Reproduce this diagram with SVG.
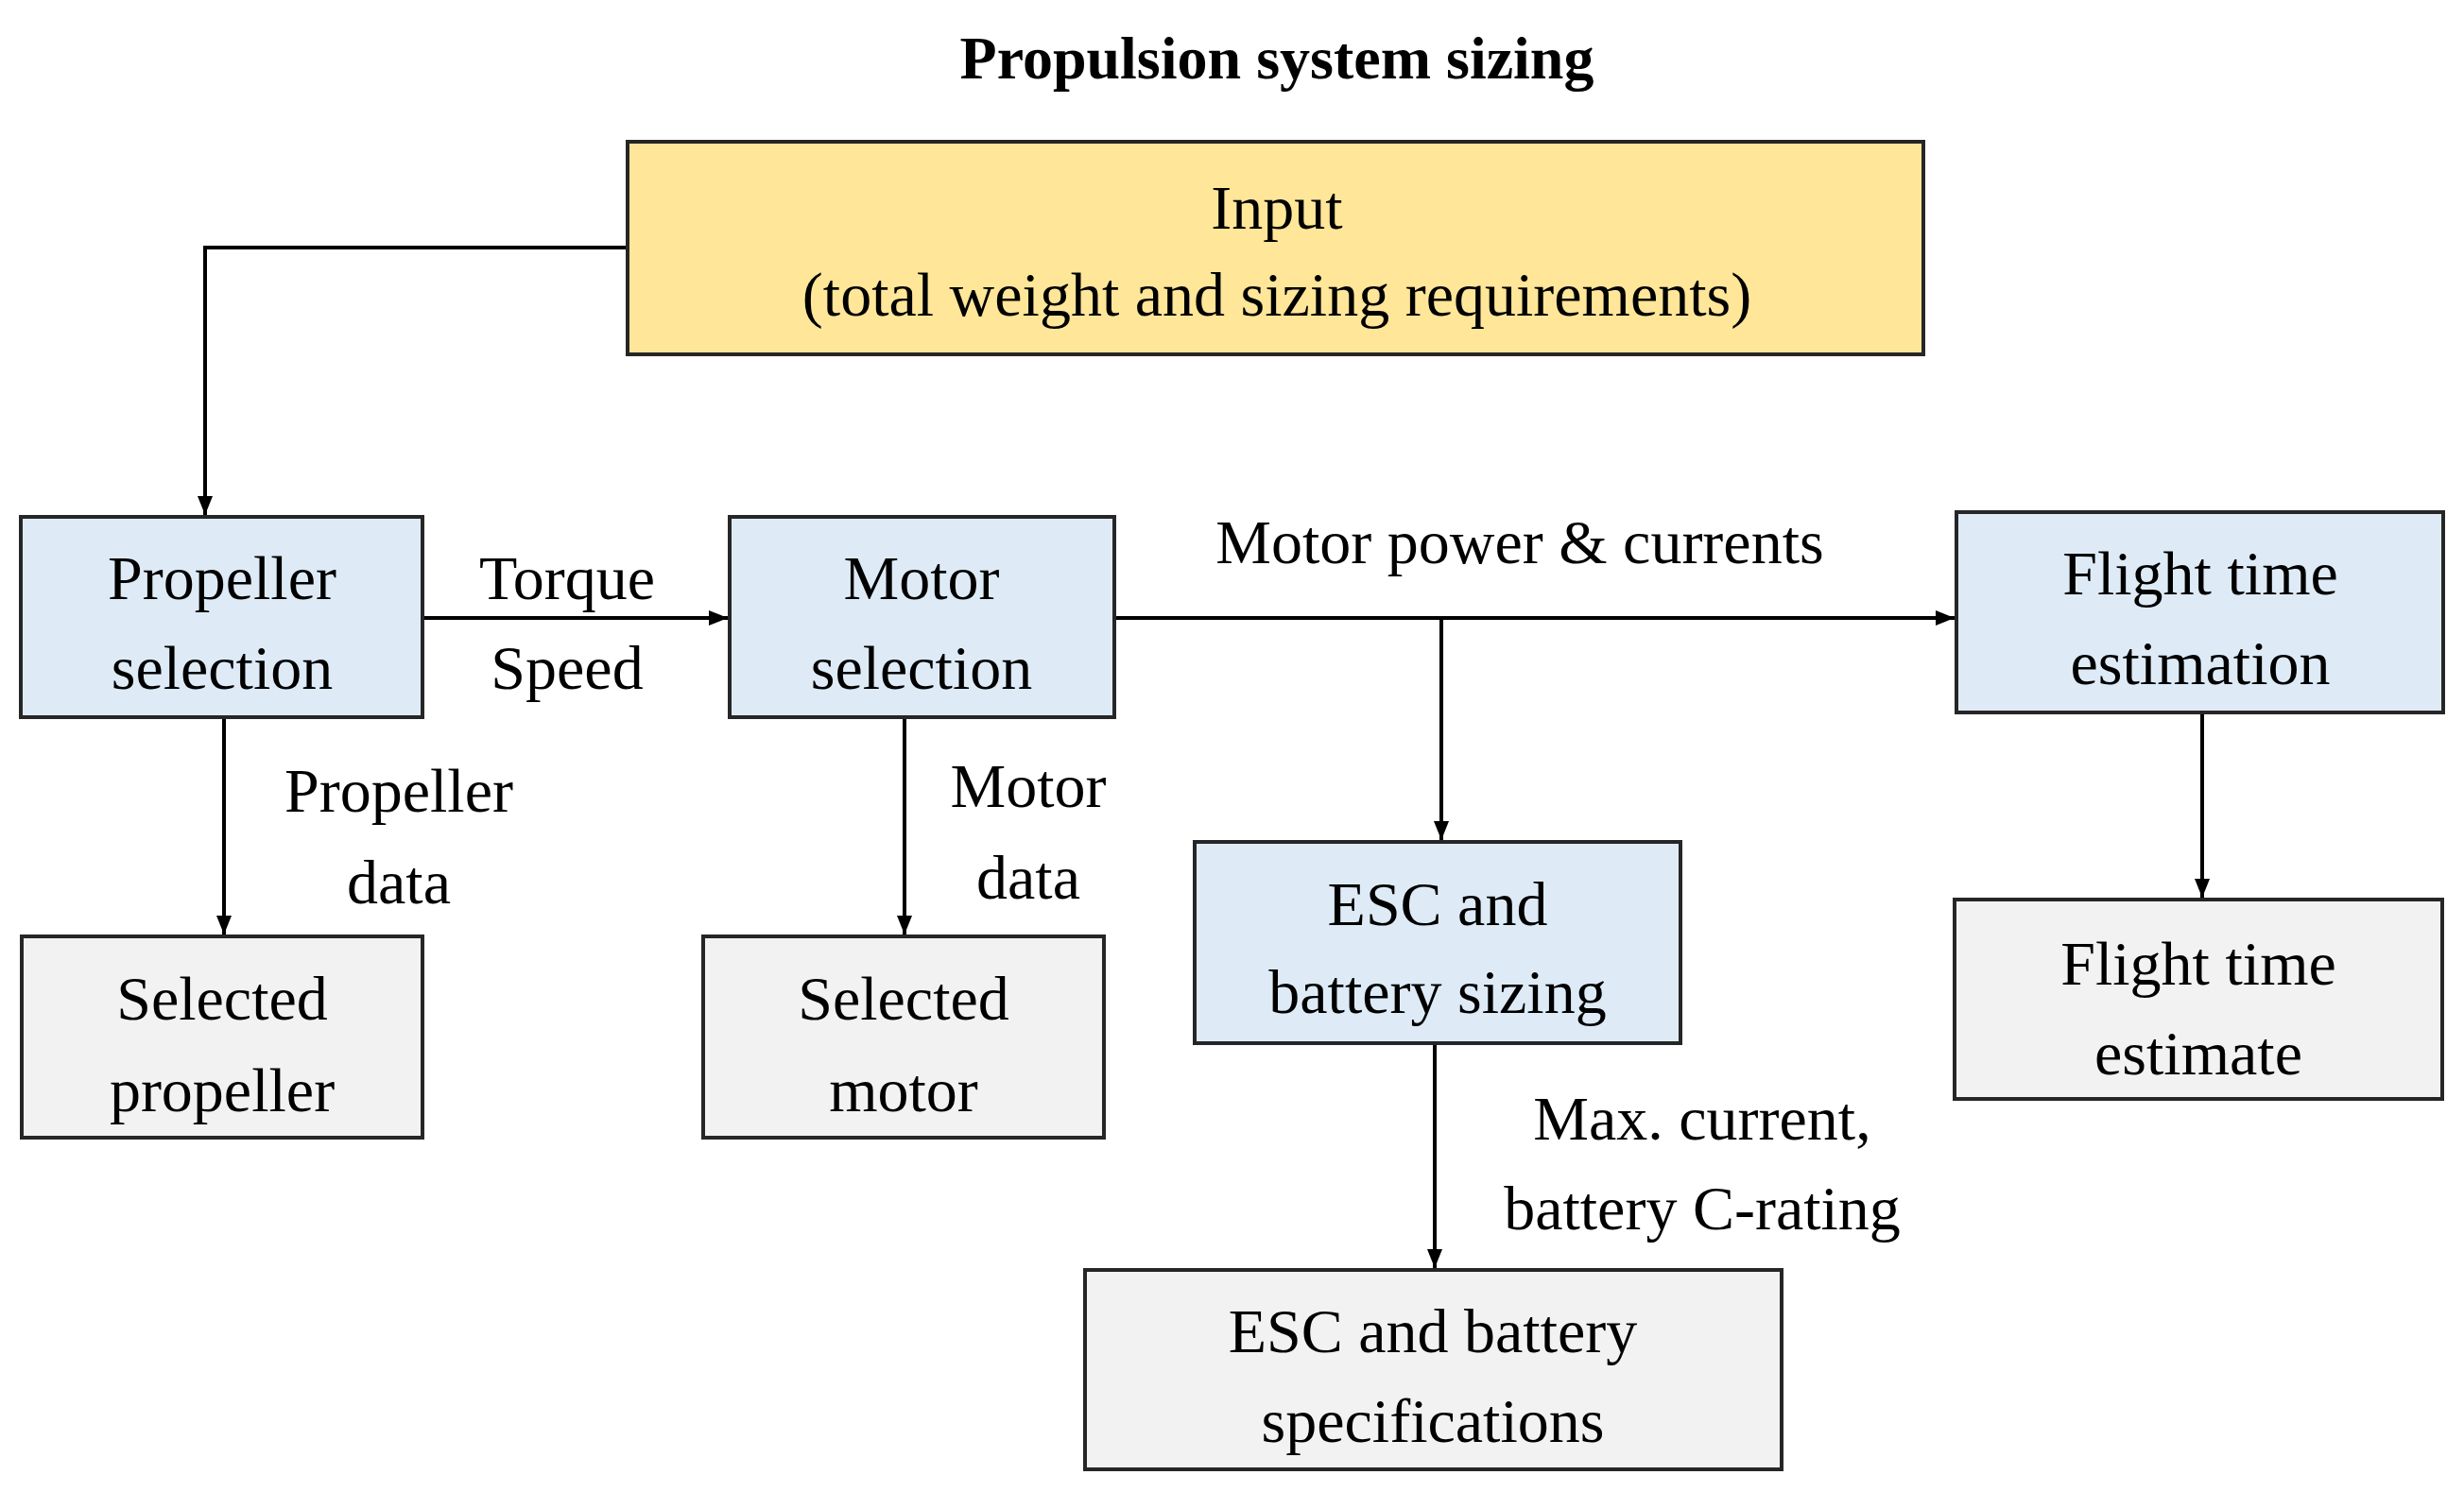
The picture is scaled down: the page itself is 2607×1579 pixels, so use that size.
<svg xmlns="http://www.w3.org/2000/svg" width="2607" height="1579" viewBox="0 0 2607 1579">
<defs>
<marker id="ah" viewBox="0 0 10 10" refX="10" refY="5" markerWidth="5" markerHeight="5" orient="auto" markerUnits="strokeWidth"><path d="M0,1 L10,5 L0,9 z" fill="#000"/></marker>
<style>
text{font-family:"Liberation Serif","Times New Roman",serif;font-size:66px;fill:#000;text-anchor:middle}
.b{stroke:#262626;stroke-width:4}
.blue{fill:#DEEBF7}.grey{fill:#F2F2F2}.yel{fill:#FFE699}
.c{stroke:#000;stroke-width:4;fill:none}
.a{marker-end:url(#ah)}
</style>
</defs>
<rect width="2607" height="1579" fill="#fff"/>
<text x="1351" y="83" font-weight="bold" style="font-size:64px">Propulsion system sizing</text>
<g id="connectors">
<path class="c a" d="M664,262 H217 V545"/>
<path class="c a" d="M447,654 H770"/>
<path class="c a" d="M1179,654 H2068"/>
<path class="c a" d="M1525,654 V889"/>
<path class="c a" d="M237,759 V989"/>
<path class="c a" d="M957,759 V989"/>
<path class="c a" d="M2330,754 V950"/>
<path class="c a" d="M1518,1104 V1342"/>
<text x="600" y="634">Torque</text>
<text x="600" y="729">Speed</text>
<text x="1608" y="596">Motor power &amp; currents</text>
<text x="422" y="859">Propeller</text>
<text x="422" y="956">data</text>
<text x="1088" y="854">Motor</text>
<text x="1088" y="951">data</text>
<text x="1801" y="1206">Max. current,</text>
<text x="1801" y="1301">battery C-rating</text>
</g>
<g id="input"><rect class="b yel" x="664" y="150" width="1371" height="225"/><text x="1351" y="242">Input</text><text x="1351" y="334">(total weight and sizing requirements)</text></g>
<g id="propsel"><rect class="b blue" x="22" y="547" width="425" height="212"/><text x="235" y="634">Propeller</text><text x="235" y="729">selection</text></g>
<g id="motorsel"><rect class="b blue" x="772" y="547" width="407" height="212"/><text x="975" y="634">Motor</text><text x="975" y="729">selection</text></g>
<g id="flightest"><rect class="b blue" x="2070" y="542" width="515" height="212"/><text x="2328" y="629">Flight time</text><text x="2328" y="724">estimation</text></g>
<g id="escsizing"><rect class="b blue" x="1264" y="891" width="514" height="213"/><text x="1521" y="979">ESC and</text><text x="1521" y="1072">battery sizing</text></g>
<g id="selprop"><rect class="b grey" x="23" y="991" width="424" height="213"/><text x="235" y="1079">Selected</text><text x="235" y="1176">propeller</text></g>
<g id="selmotor"><rect class="b grey" x="744" y="991" width="424" height="213"/><text x="956" y="1079">Selected</text><text x="956" y="1176">motor</text></g>
<g id="fte"><rect class="b grey" x="2068" y="952" width="516" height="211"/><text x="2326" y="1042">Flight time</text><text x="2326" y="1137">estimate</text></g>
<g id="escspec"><rect class="b grey" x="1148" y="1344" width="737" height="211"/><text x="1516" y="1431">ESC and battery</text><text x="1516" y="1526">specifications</text></g>
</svg>
